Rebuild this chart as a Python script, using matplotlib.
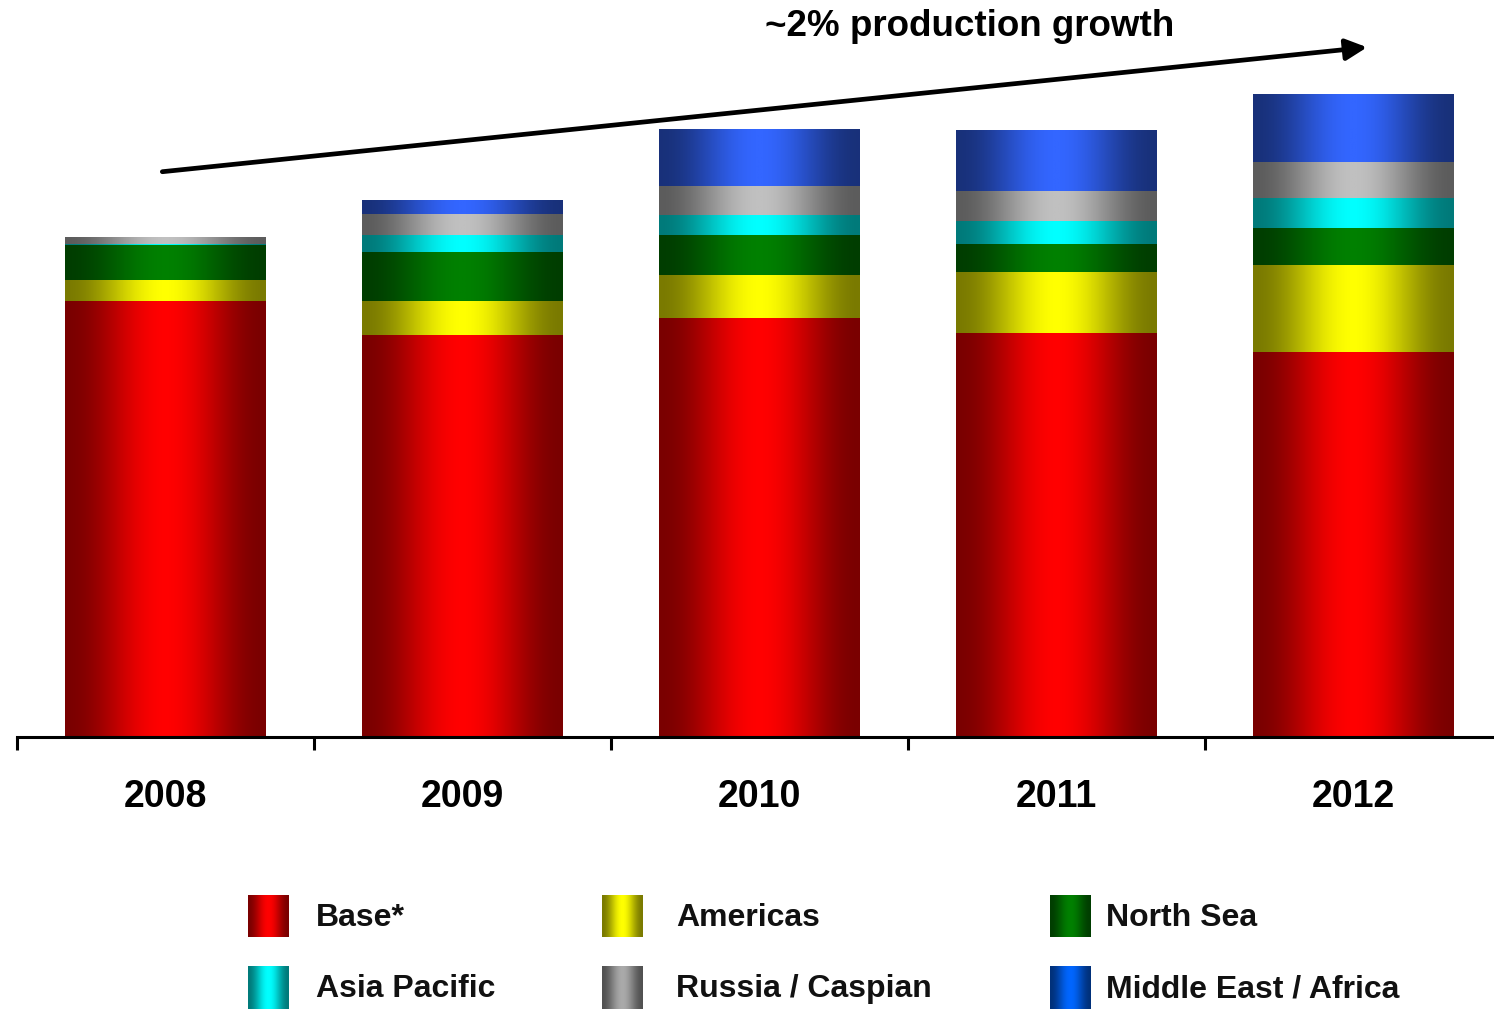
import matplotlib
matplotlib.use("Agg")
import matplotlib.pyplot as plt
import numpy as np
from matplotlib.colors import LinearSegmentedColormap

plt.rcParams['font.family'] = ['Liberation Sans', 'DejaVu Sans']

# Data (arbitrary units)
years = ["2008", "2009", "2010", "2011", "2012"]
base = [436, 402, 419, 404, 385]
americas = [21, 34, 43, 61, 87]
north_sea = [35, 49, 40, 28, 37]
asia_pacific = [1, 17, 20, 23, 30]
russia_caspian = [7, 21, 29, 30, 36]
middle_east_africa = [0, 14, 57, 61, 68]

labels = ["Base*", "Americas", "North Sea", "Asia Pacific",
          "Russia / Caspian", "Middle East / Africa"]
values = [base, americas, north_sea, asia_pacific, russia_caspian, middle_east_africa]
colors = [(255, 0, 0), (255, 255, 0), (0, 128, 0), (0, 255, 255),
          (192, 192, 192), (51, 102, 255)]
legend_colors = [(255, 0, 0), (255, 255, 0), (0, 128, 0), (0, 255, 255),
                 (170, 170, 170), (0, 102, 255)]


def shade_cmap(rgb):
    c = np.array(rgb) / 255.0
    return LinearSegmentedColormap.from_list("g", [c * 0.48, c])


def grad():
    # dark at the edges, full colour in the middle (cylinder look)
    t = np.linspace(0, 1, 256)
    return (0.5 - 0.5 * np.cos(np.pi * (1 - np.abs(2 * t - 1)))).reshape(1, -1)


fig = plt.figure(figsize=(14.94, 10.09), dpi=100)
ax = fig.add_axes([17 / 1494, 272 / 1009, 1485 / 1494, 737 / 1009])

x = np.arange(len(years))
bottom = np.zeros(len(years))
for vals, rgb in zip(values, colors):
    bars = ax.bar(x, vals, width=0.675, bottom=bottom, facecolor="none", edgecolor="none")
    cmap = shade_cmap(rgb)
    for p in bars.patches:
        if p.get_height() <= 0:
            continue
        x0, y0 = p.get_x(), p.get_y()
        ax.imshow(grad(), cmap=cmap, vmin=0, vmax=1, aspect="auto",
                  extent=(x0, x0 + p.get_width(), y0, y0 + p.get_height()),
                  interpolation="bilinear")
    bottom += np.array(vals)

ax.set_xlim(-0.5, 4.5)
ax.set_ylim(0, 737)
for s in ["top", "right", "left"]:
    ax.spines[s].set_visible(False)
ax.spines["bottom"].set_linewidth(2.2)
ax.set_yticks([])
ax.set_xticks(x)
ax.set_xticklabels(years, fontsize=27, fontweight="bold")
ax.tick_params(axis="x", which="major", length=0, pad=30)
ax.set_xticks(np.arange(-0.5, 4.0, 1), minor=True)
ax.tick_params(axis="x", which="minor", length=9, width=2.2, direction="out")

# growth arrow
ax.annotate("", xy=(4.055, 690), xytext=(-0.02, 565),
            arrowprops=dict(arrowstyle="-|>", lw=3.4, color="black", mutation_scale=32),
            annotation_clip=False)
fig.text(970 / 1494, 1 - 26 / 1009, "~2% production growth", fontsize=26.5,
         fontweight="bold", ha="center", va="center")

# legend
sw_x = [248, 602, 1050]
tx_x = [316, 676, 1106]
rows = [916, 987]
for i, (name, rgb) in enumerate(zip(labels, legend_colors)):
    r, c = divmod(i, 3)
    yc = rows[r]
    sax = fig.add_axes([sw_x[c] / 1494, 1 - (yc + 21.5) / 1009, 41 / 1494, 43 / 1009])
    sax.imshow(grad(), cmap=shade_cmap(rgb), vmin=0, vmax=1, aspect="auto", interpolation="bilinear")
    sax.axis("off")
    fig.text(tx_x[c] / 1494, 1 - (yc + 2) / 1009, name, fontsize=23, fontweight="bold",
             color="#111111", ha="left", va="center")

fig.savefig("out.png", dpi=100)
